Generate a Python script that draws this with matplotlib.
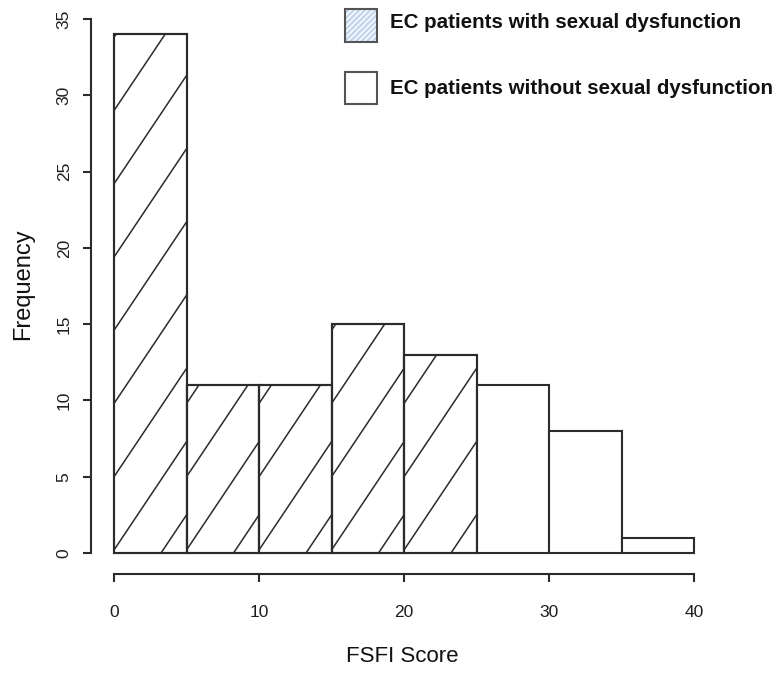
import numpy as np
import matplotlib
matplotlib.use("Agg")
import matplotlib.pyplot as plt
from matplotlib.patches import Rectangle

plt.rcParams['font.family'] = ['Liberation Sans', 'DejaVu Sans']

# ---- data ----
bin_edges = [0, 5, 10, 15, 20, 25, 30, 35, 40]
frequencies = [34, 11, 11, 15, 13, 11, 8, 1]
with_dysfunction = [True, True, True, True, True, False, False, False]
legend_labels = ["EC patients with sexual dysfunction",
                 "EC patients without sexual dysfunction"]
x_ticks = [0, 10, 20, 30, 40]
y_ticks = [0, 5, 10, 15, 20, 25, 30, 35]
x_label = "FSFI Score"
y_label = "Frequency"

# ---- style ----
line_col = "#2b2b2b"
hatch_slope = 1.42      # y-units per x-unit
hatch_spacing = 4.8     # vertical spacing between hatch lines (y-units)
hatch_offset = 0.2

fig = plt.figure(figsize=(7.83, 6.73), dpi=100)
ax = fig.add_axes([0.116, 0.1465, 0.800, 0.857])
ax.set_xlim(-1.6, 41.6)
ax.set_ylim(-1.4, 36.4)

for i, h in enumerate(frequencies):
    left, right = bin_edges[i], bin_edges[i + 1]
    rect = Rectangle((left, 0), right - left, h, facecolor="white",
                     edgecolor=line_col, linewidth=1.5, zorder=2)
    ax.add_patch(rect)
    if with_dysfunction[i]:
        clip = Rectangle((left, 0), right - left, h, transform=ax.transData,
                         facecolor="none", edgecolor="none")
        xs = np.array([left, right])
        kmin = -int(np.ceil(hatch_slope * (right - left) / hatch_spacing)) - 1
        kmax = int(np.ceil(h / hatch_spacing)) + 1
        for k in range(kmin, kmax + 1):
            ys = hatch_slope * (xs - left) + k * hatch_spacing + hatch_offset
            ln, = ax.plot(xs, ys, color=line_col, lw=1.1, zorder=3)
            ln.set_clip_path(clip)
        edge = Rectangle((left, 0), right - left, h, facecolor="none",
                         edgecolor=line_col, linewidth=1.5, zorder=4)
        ax.add_patch(edge)

for s in ["top", "right"]:
    ax.spines[s].set_visible(False)
for s in ["left", "bottom"]:
    ax.spines[s].set_color(line_col)
    ax.spines[s].set_linewidth(1.5)
ax.spines["left"].set_bounds(0, 35)
ax.spines["bottom"].set_bounds(0, 40)

ax.set_xticks(x_ticks)
ax.set_xticklabels([str(v) for v in x_ticks])
ax.set_yticks(y_ticks)
ax.set_yticklabels([str(v) for v in y_ticks], rotation=90, va="center")
ax.tick_params(axis="both", direction="out", length=5.8, width=1.5,
               color=line_col, labelsize=12.5, labelcolor="#1e1e1e")
ax.tick_params(axis="x", pad=16)
ax.tick_params(axis="y", pad=8)

fig.text(402.7 / 783, 1 - 656 / 673, x_label, ha="center", va="center",
         fontsize=16, color="#111111")
fig.text(23 / 783, 1 - 284 / 673, y_label, ha="center", va="center",
         rotation=90, fontsize=17, color="#111111")

# ---- legend (manual, figure pixel coords) ----
W, H = 783.0, 673.0
box_x0, box_w, box_h = 345, 32, 32
box_centres = [25.5, 87.5]
text_centres = [22, 88]
for j, lab in enumerate(legend_labels):
    yc = box_centres[j]
    x0 = box_x0 / W
    y0 = 1 - (yc + box_h / 2) / H
    if j == 0:
        fill = Rectangle((x0, y0), box_w / W, box_h / H, transform=fig.transFigure,
                         facecolor="#c4d7ee", edgecolor="white", hatch="//////",
                         linewidth=0)
        fig.add_artist(fill)
    frame = Rectangle((x0, y0), box_w / W, box_h / H, transform=fig.transFigure,
                      facecolor="none", edgecolor="#555555", linewidth=1.5)
    fig.add_artist(frame)
    fig.text(390 / W, 1 - text_centres[j] / H, lab, ha="left", va="center",
             fontsize=14.8, fontweight="bold", color="#111111")

fig.savefig("out.png", dpi=100)
